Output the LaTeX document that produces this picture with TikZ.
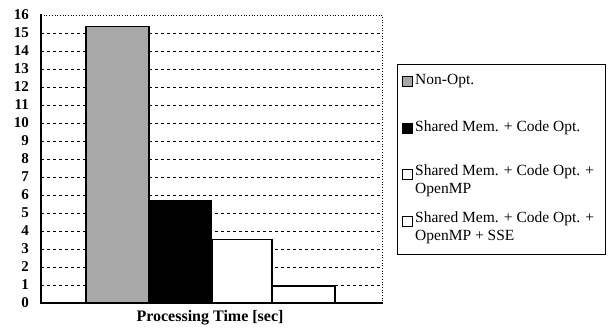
\documentclass[tikz,border=0pt]{standalone}
\usepackage{fontspec}
\setmainfont{Liberation Serif}
\begin{document}
\begin{tikzpicture}[x=1pt,y=-1pt,
  grid/.style={line width=0.8pt, dash pattern=on 3pt off 3pt},
  border/.style={line width=0.7pt, dotted},
  axis/.style={line width=2pt},
  bar/.style={draw=black, line width=1.2pt},
  ticklab/.style={anchor=east, font=\bfseries\fontsize{15}{15}\selectfont, inner sep=0pt},
  legtext/.style={anchor=west, align=left, inner sep=0pt, font=\fontsize{15.5}{18}\selectfont},
  legmark/.style={draw=black, line width=0.8pt, minimum size=10pt, inner sep=0pt}]
\useasboundingbox (0,0) rectangle (609,334);
% grid
\foreach \v in {1,...,15} {
  \draw[grid] (41,{303-18*\v}) -- (382,{303-18*\v});
}
\draw[border] (41,15) -- (382,15) -- (382,303);
% bars
\fill[black!34] (86,303) rectangle (149,{303-18*15.35});
\draw[bar] (86,303) -- (86,{303-18*15.35}) -- (149,{303-18*15.35}) -- (149,303);
\fill[black] (149,303) rectangle (212,{303-18*5.75});
\draw[bar,fill=white] (212,303) rectangle (272,{303-18*3.55});
\draw[bar,fill=white] (272,303) rectangle (335,{303-18*0.95});
% axes
\draw[axis] (41,14) -- (41,303) -- (383,303);
% tick labels
\foreach \v in {0,...,16} {
  \node[ticklab] at (29,{303-18*\v}) {\v};
}
% axis title
\node[font=\bfseries\fontsize{16}{16}\selectfont] (title) at (210,318) {Processing Time [sec]};
% legend
\draw[line width=0.7pt] (397,64) rectangle (605,254);
\node[legmark, fill=black!34] (m1) at (407.5,81) {};
\node[legtext] (t1) at (415,81) {Non-Opt.};
\node[legmark, fill=black] (m2) at (407.5,128) {};
\node[legtext] (t2) at (415,128) {Shared Mem. + Code Opt.};
\node[legmark, fill=white] (m3) at (407.5,174) {};
\node[legtext, anchor=north west] (t3) at (415,165) {Shared Mem. + Code Opt. +\\OpenMP};
\node[legmark, fill=white] (m4) at (407.5,221) {};
\node[legtext, anchor=north west] (t4) at (415,212) {Shared Mem. + Code Opt. +\\OpenMP + SSE};
\end{tikzpicture}
\end{document}
